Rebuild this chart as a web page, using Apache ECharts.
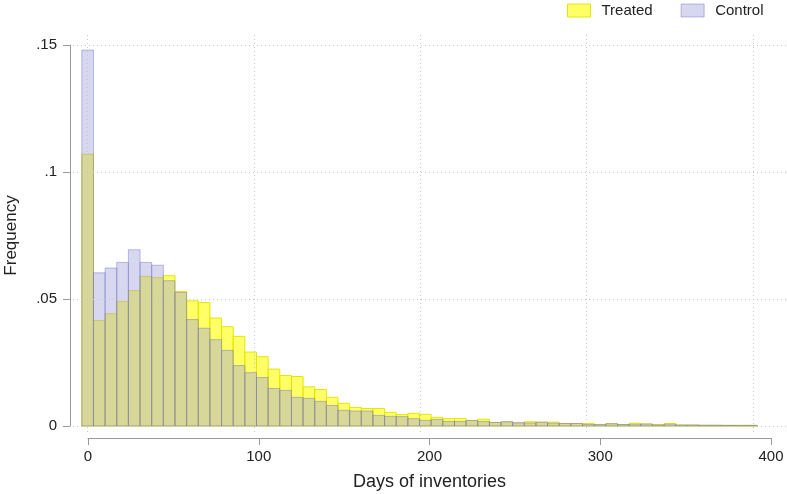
<!doctype html>
<html>
<head>
<meta charset="utf-8">
<script src="https://cdn.jsdelivr.net/npm/echarts@6/dist/echarts.min.js"></script>
<style>
* { margin: 0; padding: 0; }
#chart { width: 787px; height: 494px; background: #fff; }
</style>
</head>
<body>
<div id="chart"></div>
<script>
// bin centres (days), bin width 7
var binCenters = [0,7,14,21,28,35,42,49,56,63,70,77,84,91,98,105,112,119,126,133,140,147,154,161,168,175,182,189,196,203,210,217,224,231,238,245,252,259,266,273,280,287,294,301,308,315,322,329,336,343,350,357,364,371,378,385,392,399];
var binWidth = 7;

var treated = [0.107,0.0415,0.0442,0.049,0.0533,0.0589,0.0584,0.0592,0.0529,0.0493,0.0486,0.0425,0.0391,0.0353,0.0291,0.0273,0.0224,0.0199,0.0195,0.0154,0.0144,0.0113,0.0089,0.0073,0.0069,0.0069,0.0054,0.0045,0.005,0.0046,0.0034,0.0029,0.003,0.0022,0.0027,0.0014,0.0016,0.0010,0.0017,0.0015,0.0015,0.0010,0.0010,0.0010,0.0005,0.0009,0.0006,0.0011,0.0008,0.0006,0.0010,0.0004,0.0004,0.0003,0.0003,0.0003,0.0003,0.0003];
var control = [0.148,0.0603,0.0622,0.0644,0.0694,0.0644,0.0633,0.0572,0.0526,0.0419,0.0385,0.034,0.0298,0.0238,0.021,0.0191,0.0148,0.014,0.0113,0.0109,0.0097,0.0081,0.0062,0.0059,0.0059,0.0042,0.0038,0.0037,0.0029,0.0022,0.0026,0.0018,0.0018,0.0022,0.0018,0.0014,0.0017,0.0014,0.0012,0.0015,0.0011,0.0010,0.0010,0.0006,0.0006,0.0009,0.0006,0.0007,0.0008,0.0004,0.0007,0.0004,0.0004,0.0003,0.0003,0.0002,0.0002,0.0002];

var xTicks = [0, 100, 200, 300, 400];
var yTicks = [0, 0.05, 0.1, 0.15];

var treatedStyle = { color: 'rgba(255,255,0,0.6)', borderColor: 'rgba(228,228,0,0.95)', borderWidth: 1 };
var controlStyle = { color: 'rgba(160,160,219,0.42)', borderColor: 'rgba(110,110,200,0.45)', borderWidth: 1 };

function pairs(vals) {
	return binCenters.map(function (c, i) { return [c, vals[i]]; });
}

function histItem(style) {
	return function (params, api) {
		var c = api.value(0), v = api.value(1);
		var p0 = api.coord([c - binWidth / 2, v]);
		var p1 = api.coord([c + binWidth / 2, 0]);
		return {
			type: 'rect',
			shape: { x: p0[0], y: p0[1], width: p1[0] - p0[0], height: p1[1] - p0[1] },
			style: { fill: style.color, stroke: style.borderColor, lineWidth: 1 }
		};
	};
}

var gridLines = [];
xTicks.forEach(function (t) { gridLines.push({ xAxis: t }); });
yTicks.forEach(function (t) { gridLines.push({ yAxis: t }); });

var chart = echarts.init(document.getElementById('chart'));
var font = '"Liberation Sans", Arial, sans-serif';

chart.setOption({
	animation: false,
	textStyle: { fontFamily: font },
	legend: {
		left: 567, top: 3, padding: 0,
		itemWidth: 23, itemHeight: 13, itemGap: 28,
		textStyle: { fontSize: 15, color: '#222', fontFamily: font, padding: [0, 0, 0, 6] },
		data: [
			{ name: 'Treated', icon: 'rect', itemStyle: treatedStyle },
			{ name: 'Control', icon: 'rect', itemStyle: controlStyle }
		]
	},
	grid: [
		// plot region (bars + grid lines)
		{ left: 73, right: 0, top: 32, bottom: 62, outerBoundsMode: 'none' },
		// visible axes
		{ left: 88, right: 16, top: 45, bottom: 68, outerBoundsMode: 'none' }
	],
	xAxis: [
		{ gridIndex: 0, type: 'value', min: -8.8, max: 420.4, show: false, splitLine: { show: false } },
		{
			gridIndex: 1, type: 'value', min: 0, max: 400, interval: 100, offset: 12,
			axisLine: { show: true, onZero: false, lineStyle: { color: '#9a9a9a', width: 1 } },
			axisTick: { show: true, length: 7, lineStyle: { color: '#9a9a9a' } },
			axisLabel: { fontSize: 15, color: '#222', margin: 11, fontFamily: font },
			splitLine: { show: false },
			name: 'Days of inventories', nameLocation: 'middle', nameGap: 35,
			nameTextStyle: { fontSize: 18, color: '#222', fontFamily: font }
		}
	],
	yAxis: [
		{ gridIndex: 0, type: 'value', min: -0.00236, max: 0.15512, show: false, splitLine: { show: false } },
		{
			gridIndex: 1, type: 'value', min: 0, max: 0.15, interval: 0.05, offset: 18,
			axisLine: { show: true, onZero: false, lineStyle: { color: '#9a9a9a', width: 1 } },
			axisTick: { show: true, length: 7, lineStyle: { color: '#9a9a9a' } },
			axisLabel: {
				fontSize: 15, color: '#222', margin: 13, fontFamily: font,
				formatter: function (v) { return v === 0 ? '0' : String(+v.toFixed(2)).replace(/^0/, ''); }
			},
			splitLine: { show: false },
			name: 'Frequency', nameLocation: 'middle', nameGap: 50,
			nameTextStyle: { fontSize: 17, color: '#222', fontFamily: font }
		}
	],
	series: [
		{
			name: 'Treated', type: 'custom', xAxisIndex: 0, yAxisIndex: 0,
			renderItem: histItem(treatedStyle), itemStyle: treatedStyle,
			data: pairs(treated), z: 2
		},
		{
			name: 'Control', type: 'custom', xAxisIndex: 0, yAxisIndex: 0,
			renderItem: histItem(controlStyle), itemStyle: controlStyle,
			data: pairs(control), z: 3
		},
		{
			name: 'grid', type: 'line', xAxisIndex: 0, yAxisIndex: 0, data: [], z: 4,
			silent: true,
			markLine: {
				silent: true, symbol: 'none', label: { show: false },
				lineStyle: { type: [1, 3], color: '#c8c8c8', width: 1 },
				data: gridLines
			}
		}
	]
});
</script>
</body>
</html>
